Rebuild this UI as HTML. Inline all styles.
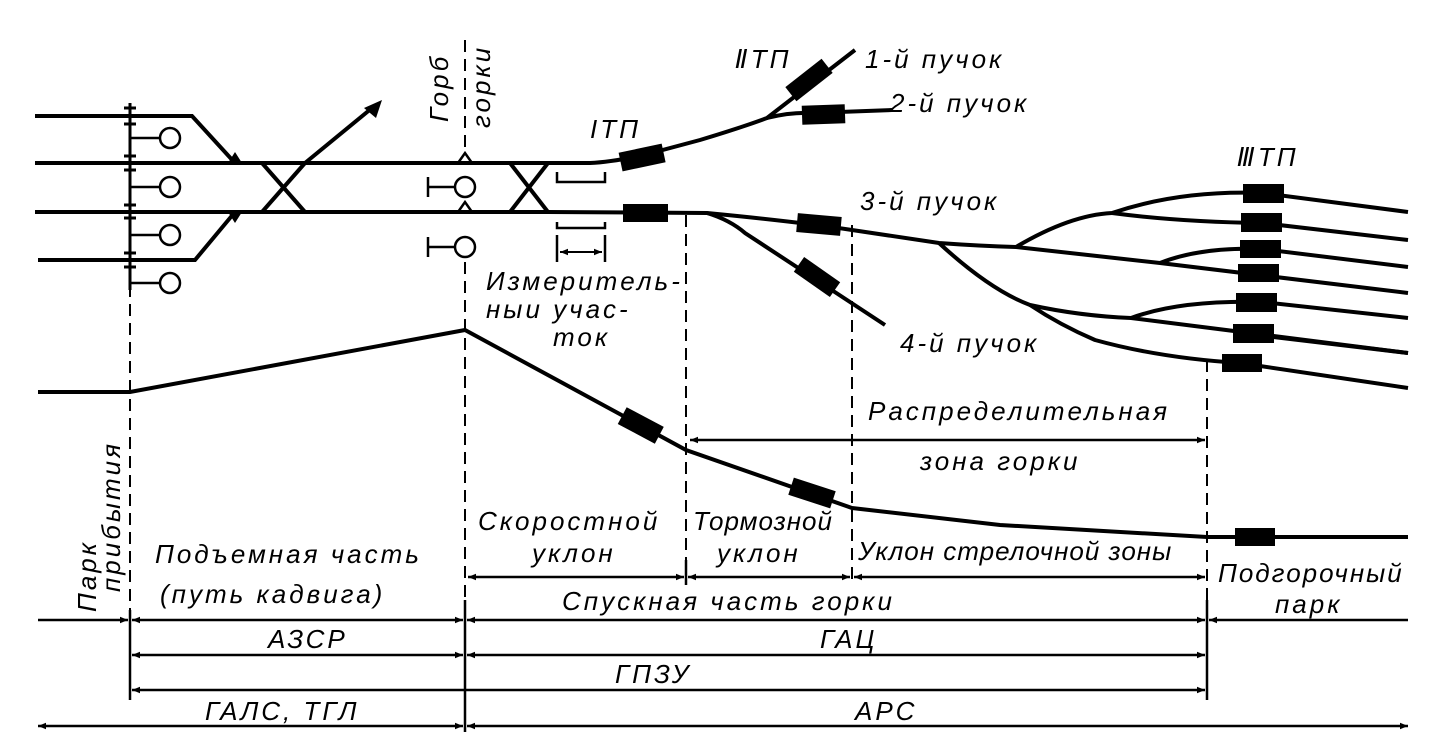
<!DOCTYPE html>
<html><head><meta charset="utf-8"><style>
html,body{margin:0;padding:0;background:#fff}
svg{display:block}
text{font-family:"Liberation Sans Narrow","Liberation Sans","DejaVu Sans",sans-serif;font-style:italic;font-size:26px;letter-spacing:3px;fill:#000}
</style></head><body>
<svg width="1432" height="754" viewBox="0 0 1432 754" xmlns="http://www.w3.org/2000/svg">
<defs>
<marker id="a" viewBox="0 0 10 10" refX="10" refY="5" markerWidth="16" markerHeight="8" markerUnits="userSpaceOnUse" orient="auto-start-reverse"><path d="M0,1 L10,5 L0,9 Z" fill="#000"/></marker>
</defs>
<g stroke="#000" fill="none" stroke-linecap="butt">
<g stroke-width="2" stroke-dasharray="12,7">
<line x1="130" y1="285" x2="130" y2="700"/>
<line x1="465" y1="40" x2="465" y2="150"/>
<line x1="465" y1="262" x2="465" y2="730"/>
<line x1="686" y1="215" x2="686" y2="580"/>
<line x1="852" y1="225" x2="852" y2="580"/>
<line x1="1207" y1="360" x2="1207" y2="625"/>
</g>
<g stroke-width="4">
<polyline points="35,116 192,116 235,163"/>
<line x1="35" y1="163" x2="548" y2="163"/>
<line x1="35" y1="212" x2="548" y2="212"/>
<polyline points="38,260 195,260 235,212"/>
<line x1="262" y1="163" x2="305" y2="212"/>
<line x1="262" y1="212" x2="305" y2="163"/>
<line x1="510" y1="163" x2="548" y2="212"/>
<line x1="510" y1="212" x2="548" y2="163"/>
<line x1="305" y1="163" x2="372" y2="108" />
<polyline points="458,163 465,153 472,163" stroke-width="2.5"/>
<polyline points="458,212 465,202 472,212" stroke-width="2.5"/>
<path d="M548,163 L590,163 Q610,162 640,156 L700,140 Q740,128 767,118 L855,50"/>
<path d="M767,118 Q790,112 812,113 L892,110"/>
<path d="M548,212 L707,213 Q800,222 852,230 L939,243 Q980,246 1016,247 L1160,263 L1408,293"/>
<path d="M707,213 Q730,220 745,233 L885,325"/>
<path d="M939,243 Q990,290 1030,305 Q1080,316 1131,318 L1408,353"/>
<path d="M1030,305 Q1060,325 1095,340 Q1160,358 1240,363 L1408,388"/>
<path d="M1016,247 Q1070,215 1112,213 Q1180,190 1262,193 L1408,212"/>
<path d="M1112,213 Q1180,222 1262,223 L1408,240"/>
<path d="M1160,263 Q1200,247 1262,249 L1408,267"/>
<path d="M1131,318 Q1180,300 1262,302 L1408,318"/>
<path d="M1240,333 L1408,353"/>
<polyline points="38,392 130,392 465,330 686,450 852,508 1000,525 1207,537 1408,537"/>
</g>
<g stroke-width="3">
<line x1="130" y1="103" x2="130" y2="290"/>
<line x1="124" y1="108" x2="136" y2="108"/><line x1="124" y1="124" x2="136" y2="124"/>
<line x1="124" y1="156" x2="136" y2="156"/><line x1="124" y1="170" x2="136" y2="170"/>
<line x1="124" y1="205" x2="136" y2="205"/><line x1="124" y1="218" x2="136" y2="218"/>
<line x1="124" y1="253" x2="136" y2="253"/><line x1="124" y1="267" x2="136" y2="267"/>
<g stroke-width="2.5">
<line x1="130" y1="138" x2="160" y2="138"/><circle cx="170" cy="138" r="10"/>
<line x1="130" y1="187" x2="160" y2="187"/><circle cx="170" cy="187" r="10"/>
<line x1="130" y1="235" x2="160" y2="235"/><circle cx="170" cy="235" r="10"/>
<line x1="130" y1="283" x2="160" y2="283"/><circle cx="170" cy="283" r="10"/>
<line x1="428" y1="177" x2="428" y2="197"/><line x1="428" y1="187" x2="455" y2="187"/><circle cx="465" cy="187" r="10"/>
<line x1="428" y1="237" x2="428" y2="257"/><line x1="428" y1="247" x2="455" y2="247"/><circle cx="465" cy="247" r="10"/>
</g>
<polyline points="557,172 557,182 605,182 605,172" stroke-width="2.5"/>
<polyline points="557,222 557,228 605,228 605,222" stroke-width="2.5"/>
<line x1="557" y1="235" x2="557" y2="262" stroke-width="2.5"/>
<line x1="605" y1="235" x2="605" y2="262" stroke-width="2.5"/>
</g>
<line x1="560" y1="252" x2="602" y2="252" stroke-width="2" marker-start="url(#a)" marker-end="url(#a)"/>
<g stroke-width="2.5">
<line x1="690" y1="440" x2="1205" y2="440" marker-start="url(#a)" marker-end="url(#a)"/>
<line x1="468" y1="577" x2="684" y2="577" marker-start="url(#a)" marker-end="url(#a)"/>
<line x1="688" y1="577" x2="850" y2="577" marker-start="url(#a)" marker-end="url(#a)"/>
<line x1="854" y1="577" x2="1205" y2="577" marker-start="url(#a)" marker-end="url(#a)"/>
<line x1="38" y1="620" x2="128" y2="620" marker-end="url(#a)"/>
<line x1="132" y1="620" x2="463" y2="620" marker-start="url(#a)" marker-end="url(#a)"/>
<line x1="467" y1="620" x2="1205" y2="620" marker-start="url(#a)" marker-end="url(#a)"/>
<line x1="1209" y1="620" x2="1408" y2="620" marker-start="url(#a)"/>
<line x1="132" y1="655" x2="463" y2="655" marker-start="url(#a)" marker-end="url(#a)"/>
<line x1="467" y1="655" x2="1205" y2="655" marker-start="url(#a)" marker-end="url(#a)"/>
<line x1="132" y1="690" x2="1205" y2="690" marker-start="url(#a)" marker-end="url(#a)"/>
<line x1="38" y1="726" x2="463" y2="726" marker-start="url(#a)" marker-end="url(#a)"/>
<line x1="467" y1="726" x2="1408" y2="726" marker-start="url(#a)" marker-end="url(#a)"/>
<line x1="465" y1="600" x2="465" y2="732"/>
<line x1="130" y1="610" x2="130" y2="700"/>
<line x1="1207" y1="600" x2="1207" y2="700"/>
<line x1="686" y1="560" x2="686" y2="585"/>
</g>
</g>
<g fill="#000">
<polygon points="382,100 364,108 376,118"/>
<rect x="620" y="148" width="44" height="19" transform="rotate(-12 642 157)"/>
<rect x="623" y="204" width="45" height="18"/>
<rect x="786" y="71" width="46" height="18" transform="rotate(-38 809 80)"/>
<rect x="802" y="105" width="43" height="19" transform="rotate(-2 823 114)"/>
<rect x="797" y="215" width="44" height="19" transform="rotate(5 819 224)"/>
<rect x="795" y="268" width="44" height="18" transform="rotate(35 817 277)"/>
<rect x="1243" y="184" width="41" height="19"/>
<rect x="1241" y="213" width="41" height="19"/>
<rect x="1240" y="240" width="41" height="18"/>
<rect x="1238" y="264" width="41" height="18"/>
<rect x="1236" y="293" width="41" height="19"/>
<rect x="1233" y="324" width="41" height="19"/>
<rect x="1222" y="354" width="40" height="18"/>
<rect x="620" y="416" width="42" height="19" transform="rotate(28 641 425)"/>
<rect x="790" y="484" width="44" height="18" transform="rotate(18 812 493)"/>
<rect x="1235" y="528" width="40" height="18"/>
<polygon points="228,163 235,152 242,163"/><polygon points="228,212 235,223 242,212"/>
</g>
<text x="735" y="68">ⅡТП</text>
<text x="865" y="68">1-й  пучок</text>
<text x="890" y="112">2-й  пучок</text>
<text x="590" y="138">IТП</text>
<text x="1237" y="166">ⅢТП</text>
<text x="860" y="210">3-й  пучок</text>
<text x="900" y="352">4-й  пучок</text>
<text transform="translate(448,122) rotate(-90)">Горб</text>
<text transform="translate(490,128) rotate(-90)">горки</text>
<text x="486" y="290">Измеритель-</text>
<text x="486" y="318">ныи  учас-</text>
<text x="553" y="346">ток</text>
<text x="868" y="420">Распределительная</text>
<text x="920" y="470">зона   горки</text>
<text x="478" y="530">Скоростной</text>
<text x="532" y="562">уклон</text>
<text x="693" y="530" style="letter-spacing:1px">Тормозной</text>
<text x="717" y="562">уклон</text>
<text x="858" y="560" style="letter-spacing:1px">Уклон стрелочной зоны</text>
<text x="155" y="563">Подъемная  часть</text>
<text x="160" y="603">(путь кадвига)</text>
<text x="562" y="610">Спускная  часть  горки</text>
<text x="1218" y="582" style="letter-spacing:2px">Подгорочный</text>
<text x="1275" y="613">парк</text>
<text transform="translate(96,612) rotate(-90)">Парк</text>
<text transform="translate(120,592) rotate(-90)">прибытия</text>
<text x="268" y="648">АЗСР</text>
<text x="820" y="648">ГАЦ</text>
<text x="615" y="683">ГПЗУ</text>
<text x="205" y="720">ГАЛС, ТГЛ</text>
<text x="855" y="720">АРС</text>
</svg>
</body></html>
